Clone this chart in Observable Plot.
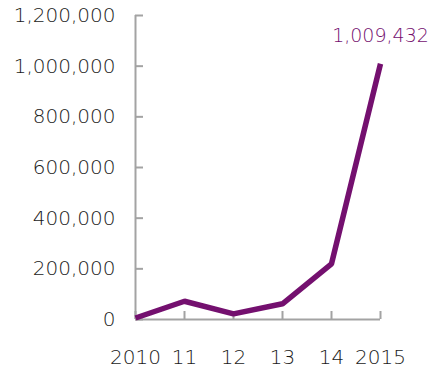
<!DOCTYPE html>
<html>
<head>
<meta charset="utf-8">
<script src="https://cdn.jsdelivr.net/npm/d3@7"></script>
<script src="https://cdn.jsdelivr.net/npm/@observablehq/plot@0.6"></script>
<style>
  html, body { margin: 0; padding: 0; background: #fff; }
  #chart svg { display: block; }
</style>
</head>
<body>
<div id="chart"></div>
<script>
const years = ["2010", "11", "12", "13", "14", "2015"];
const values = [6000, 72000, 22000, 62000, 220000, 1009432];
const yTicks = [0, 200000, 400000, 600000, 800000, 1000000, 1200000];
const lastLabel = "1,009,432";

const data = years.map((y, i) => ({year: y, value: values[i]}));
const purple = "#74106f";
const gray = "#a3a3a3";
const fmt = d3.format(",");

const chart = Plot.plot({
  width: 434,
  height: 371,
  marginLeft: 135,
  marginRight: 54,
  marginTop: 15,
  marginBottom: 52,
  style: {fontFamily: "DejaVu Sans, sans-serif", fontSize: "20px", fontWeight: 200, color: "#1a1a1a"},
  x: {type: "point", domain: years, padding: 0},
  y: {domain: [0, 1200000]},
  marks: [
    Plot.ruleX([years[0]], {stroke: gray, strokeWidth: 2}),
    Plot.ruleY([0], {stroke: gray, strokeWidth: 2}),
    Plot.axisY({ticks: yTicks, tickFormat: fmt, tickSize: -8, tickPadding: 28, stroke: gray, strokeWidth: 2, strokeOpacity: 1, fill: "#1a1a1a", label: null}),
    Plot.axisX({tickSize: -8, tickPadding: 38, stroke: gray, strokeWidth: 2, strokeOpacity: 1, fill: "#1a1a1a", label: null}),
    Plot.line(data, {x: "year", y: "value", stroke: purple, strokeWidth: 5.5, strokeLinejoin: "miter", strokeLinecap: "butt"}),
    Plot.text(data.slice(-1), {x: "year", y: "value", text: () => lastLabel, fill: purple, dy: -28, fontSize: 19, textAnchor: "middle"})
  ]
});
document.getElementById("chart").appendChild(chart);
</script>
</body>
</html>
